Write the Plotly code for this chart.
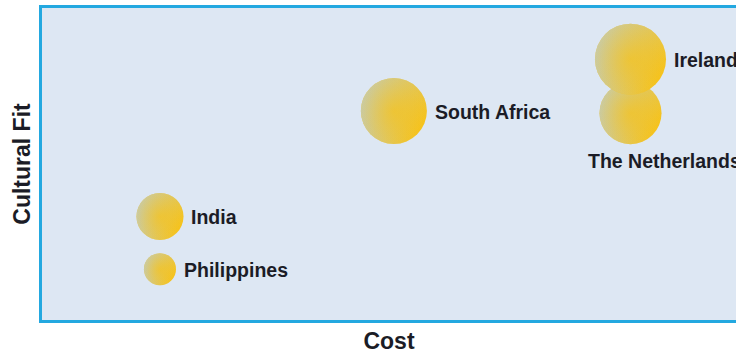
import plotly.graph_objects as go

countries = ["India", "Philippines", "South Africa", "The Netherlands", "Ireland"]
cost = [17.0, 17.0, 50.7, 84.8, 84.8]
cultural_fit = [33.2, 16.3, 67.0, 66.3, 83.6]
bubble_size = [47, 32, 66, 62, 71]

GOLD = "rgb(255,193,0)"
GRAY_H0 = "rgba(186,206,212,0.70)"
GRAY_V0 = "rgba(186,206,212,0.34)"
GRAY_0 = "rgba(186,206,212,0)"
GOLD_C = "rgba(255,193,0,0.45)"
GOLD_0 = "rgba(255,193,0,0)"
TEXT = "#1b1c26"
FRAME = "#23a8e0"

fig = go.Figure()
for name, x, y, s in zip(countries, cost, cultural_fit, bubble_size):
    # gold base
    fig.add_trace(go.Scatter(
        x=[x], y=[y], mode="markers", name=name, showlegend=False,
        marker=dict(size=s, color=GOLD, line=dict(width=0))))
    # gray fading from the left
    fig.add_trace(go.Scatter(
        x=[x], y=[y], mode="markers", hoverinfo="skip", showlegend=False,
        marker=dict(size=s, color=GRAY_H0, line=dict(width=0),
                    gradient=dict(type="horizontal", color=GRAY_0))))
    # gray fading from the top
    fig.add_trace(go.Scatter(
        x=[x], y=[y], mode="markers", hoverinfo="skip", showlegend=False,
        marker=dict(size=s, color=GRAY_V0, line=dict(width=0),
                    gradient=dict(type="vertical", color=GRAY_0))))
    # soft gold core
    fig.add_trace(go.Scatter(
        x=[x], y=[y], mode="markers", hoverinfo="skip", showlegend=False,
        marker=dict(size=s, color=GOLD_0, line=dict(width=0),
                    gradient=dict(type="radial", color=GOLD_C))))

label_font = dict(family="Liberation Sans, Arial, sans-serif", size=19.5, color=TEXT)
for name, x, y, s in zip(countries, cost, cultural_fit, bubble_size):
    if name == "The Netherlands":
        fig.add_annotation(x=x, y=y, text="<b>%s</b>" % name, showarrow=False,
                           xanchor="left", yanchor="top", xshift=-45,
                           yshift=-(s / 2 + 4), font=label_font)
    else:
        fig.add_annotation(x=x, y=y, text="<b>%s</b>" % name, showarrow=False,
                           xanchor="left", yanchor="middle", xshift=s / 2 + 6,
                           yshift=-1, font=label_font)

axis_title_font = dict(family="Liberation Sans, Arial, sans-serif", size=23, color=TEXT)
fig.update_layout(
    width=736, height=355,
    margin=dict(l=42, r=0, t=8, b=35),
    paper_bgcolor="white",
    plot_bgcolor="#dde7f3",
    xaxis=dict(range=[0, 100], showticklabels=False, showgrid=False, zeroline=False,
               ticks="", showline=True, mirror=True, linecolor=FRAME, linewidth=2.5,
               title=dict(text="<b>Cost</b>", font=axis_title_font, standoff=12)),
    yaxis=dict(range=[0, 100], showticklabels=False, showgrid=False, zeroline=False,
               ticks="", showline=True, mirror=False, linecolor=FRAME, linewidth=2.5,
               title=dict(text="<b>Cultural Fit</b>", font=axis_title_font, standoff=3)),
)
fig.write_html("out.html")
